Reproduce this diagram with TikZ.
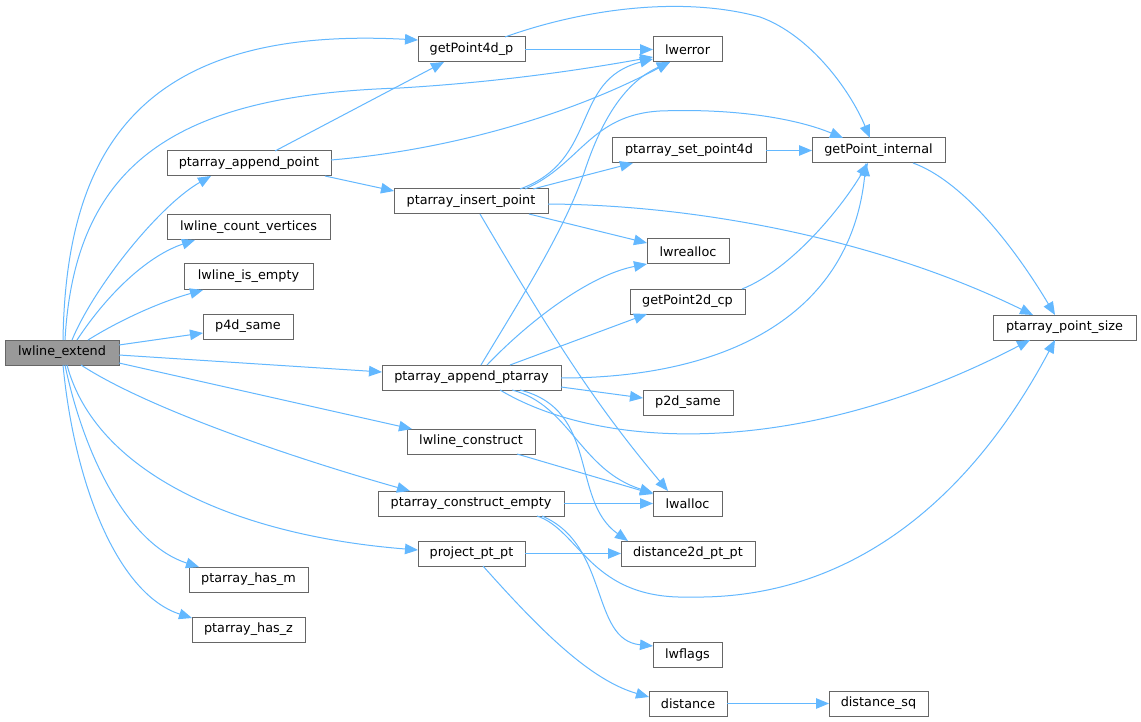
\documentclass[tikz,border=0pt]{standalone}
\usepackage{fontspec}
\setmainfont{DejaVu Sans}
\usetikzlibrary{arrows.meta,calc}
\definecolor{edgeblue}{HTML}{63B8FF}
\definecolor{boxgray}{HTML}{666666}
\definecolor{rootfill}{HTML}{999999}
\tikzset{
  fn/.style={draw=boxgray, line width=1pt, fill=white, anchor=north west, outer sep=0pt,
    inner sep=0pt, minimum height=25pt, text=black, font=\fontsize{12.8}{15}\selectfont},
  rootfn/.style={fn, fill=rootfill},
  call/.style={draw=edgeblue, line width=1pt, -{Triangle[length=13pt,width=10.5pt]}},
}
\begin{document}
\begin{tikzpicture}[x=1pt,y=-1pt]
\useasboundingbox[fill=white] (0,0) rectangle (1141,722);

% nodes (placed by their top-left corner)
\node[rootfn, minimum width=114pt] (L) at (5,340) {lwline\_extend};
\node[fn, minimum width=107pt] (gp4) at (418,37) {getPoint4d\_p};
\node[fn, minimum width=69pt] (lwerror) at (653,37) {lwerror};
\node[fn, minimum width=164pt] (pap) at (167,151) {ptarray\_append\_point};
\node[fn, minimum width=163pt] (lcv) at (167,215) {lwline\_count\_vertices};
\node[fn, minimum width=129pt] (lie) at (184,264) {lwline\_is\_empty};
\node[fn, minimum width=90pt] (p4d) at (203,314) {p4d\_same};
\node[fn, minimum width=154pt] (pip) at (394,189) {ptarray\_insert\_point};
\node[fn, minimum width=154pt] (psp) at (612,138) {ptarray\_set\_point4d};
\node[fn, minimum width=133pt] (gpi) at (812,138) {getPoint\_internal};
\node[fn, minimum width=82pt] (lwrealloc) at (647,239) {lwrealloc};
\node[fn, minimum width=115pt] (gp2) at (630,289) {getPoint2d\_cp};
\node[fn, minimum width=143pt] (pps) at (993,315) {ptarray\_point\_size};
\node[fn, minimum width=179pt] (pappt) at (382,365) {ptarray\_append\_ptarray};
\node[fn, minimum width=90pt] (p2d) at (643,390) {p2d\_same};
\node[fn, minimum width=128pt] (lwc) at (407,429) {lwline\_construct};
\node[fn, minimum width=186pt] (pce) at (378,491) {ptarray\_construct\_empty};
\node[fn, minimum width=69pt] (lwalloc) at (653,491) {lwalloc};
\node[fn, minimum width=107pt] (ppp) at (418,541) {project\_pt\_pt};
\node[fn, minimum width=134pt] (d2d) at (621,541) {distance2d\_pt\_pt};
\node[fn, minimum width=69pt] (lwflags) at (653,642) {lwflags};
\node[fn, minimum width=78pt] (dist) at (649,691) {distance};
\node[fn, minimum width=99pt] (dsq) at (829,691) {distance\_sq};
\node[fn, minimum width=119pt] (phm) at (189,567) {ptarray\_has\_m};
\node[fn, minimum width=113pt] (phz) at (192,617) {ptarray\_has\_z};

% edges from lwline_extend
\draw[call] ($(L.north west)+(58,0)$) .. controls (66,150) and (140,25) .. ($(gp4.north west)+(0,3)$);
\draw[call] ($(L.north west)+(60,0)$) .. controls (75,160) and (180,95) .. (400,88)
   .. controls (500,82) and (580,70) .. ($(lwerror.north west)+(0,20)$);
\draw[call] ($(L.north west)+(67,0)$) .. controls (95,285) and (160,205) .. ($(pap.north west)+(44,25)$);
\draw[call] ($(L.north west)+(72,0)$) .. controls (110,290) and (150,255) .. ($(lcv.north west)+(28,25)$);
\draw[call] ($(L.north west)+(83,0)$) .. controls (120,320) and (160,302) .. ($(lie.north west)+(19,26)$);
\draw[call] ($(L.north west)+(114,5)$) -- ($(p4d.north west)+(0,19)$);
\draw[call] ($(L.north west)+(114,15)$) -- ($(pappt.north west)+(0,7)$);
\draw[call] ($(L.north west)+(114,23)$) -- ($(lwc.north west)+(5,0)$);
\draw[call] ($(L.north west)+(76,25)$) .. controls (150,410) and (300,460) .. ($(pce.north west)+(32,0)$);
\draw[call] ($(L.north west)+(62,25)$) .. controls (95,470) and (230,535) .. ($(ppp.north west)+(0,9)$);
\draw[call] ($(L.north west)+(60,25)$) .. controls (85,460) and (130,545) .. ($(phm.north west)+(10,0)$);
\draw[call] ($(L.north west)+(58,25)$) .. controls (75,490) and (120,595) .. ($(phz.north west)+(0,1)$);

% edges from ptarray_append_point
\draw[call] ($(pap.north west)+(108,0)$) -- ($(gp4.north west)+(26,25)$);
\draw[call] ($(pap.north west)+(164,9)$) .. controls (450,150) and (570,115) .. ($(lwerror.north west)+(17,25)$);
\draw[call] ($(pap.north west)+(158,25)$) -- ($(pip.north west)+(0,2)$);

% edges from getPoint4d_p
\draw[call] (gp4.east) -- (lwerror.west);
\draw[call] ($(gp4.north west)+(87,0)$) .. controls (580,10) and (680,-5) .. (760,17)
   .. controls (810,35) and (850,90) .. ($(gpi.north west)+(58,0)$);

% edges from ptarray_insert_point
\draw[call] ($(pip.north west)+(126,0)$) .. controls (600,160) and (570,80) .. ($(lwerror.north west)+(0,22)$);
\draw[call] ($(pip.north west)+(131,0)$) .. controls (580,165) and (590,115) .. (660,111)
   .. controls (740,108) and (800,120) .. ($(gpi.north west)+(31,0)$);
\draw[call] ($(pip.north west)+(139,0)$) -- ($(psp.north west)+(21,25)$);
\draw[call] ($(pip.north west)+(154,15)$) .. controls (700,205) and (880,240) .. ($(pps.north west)+(40,0)$);
\draw[call] ($(pip.north west)+(135,25)$) -- ($(lwrealloc.north west)+(0,4)$);
\draw[call] ($(pip.north west)+(86,25)$) .. controls (560,350) and (600,410) .. ($(lwalloc.north west)+(15,0)$);

% other edges into getPoint_internal / ptarray_point_size
\draw[call] (psp.east) -- (gpi.west);
\draw[call] ($(gpi.north west)+(101,25)$) .. controls (960,180) and (1010,240) .. ($(pps.north west)+(62,0)$);
\draw[call] ($(gp2.north west)+(112,0)$) .. controls (790,270) and (840,210) .. ($(gpi.north west)+(56,25)$);

% edges from ptarray_append_ptarray
\draw[call] ($(pappt.north west)+(99,0)$) .. controls (520,300) and (565,230) .. (585,170)
   .. controls (605,110) and (630,80) .. ($(lwerror.north west)+(17,25)$);
\draw[call] ($(pappt.north west)+(105,0)$) .. controls (530,320) and (590,275) .. ($(lwrealloc.north west)+(0,25)$);
\draw[call] ($(pappt.north west)+(128,0)$) -- ($(gp2.north west)+(17,25)$);
\draw[call] ($(pappt.north west)+(179,13)$) .. controls (720,378) and (850,320) .. ($(gpi.north west)+(54,25)$);
\draw[call] ($(pappt.north west)+(118,25)$) .. controls (600,450) and (800,460) .. ($(pps.north west)+(37,25)$);
\draw[call] ($(pappt.north west)+(179,22)$) -- ($(p2d.north west)+(0,8)$);
\draw[call] ($(pappt.north west)+(130,25)$) .. controls (570,405) and (580,470) .. ($(lwalloc.north west)+(0,2)$);
\draw[call] ($(pappt.north west)+(138,25)$) .. controls (600,410) and (570,500) .. ($(d2d.north west)+(7,0)$);

% lwline_construct
\draw[call] ($(lwc.north west)+(110,25)$) -- ($(lwalloc.north west)+(0,3)$);

% ptarray_construct_empty
\draw[call] (pce.east) -- (lwalloc.west);
\draw[call] ($(pce.north west)+(159,25)$) .. controls (580,530) and (590,600) .. (690,597)
   .. controls (850,600) and (970,500) .. ($(pps.north west)+(62,25)$);
\draw[call] ($(pce.north west)+(164,25)$) .. controls (610,545) and (590,640) .. ($(lwflags.north west)+(0,4)$);

% project_pt_pt
\draw[call] (ppp.east) -- (d2d.west);
\draw[call] ($(ppp.north west)+(65,25)$) .. controls (540,630) and (590,680) .. ($(dist.north west)+(0,6)$);

% distance
\draw[call] (dist.east) -- (dsq.west);
\end{tikzpicture}
\end{document}
